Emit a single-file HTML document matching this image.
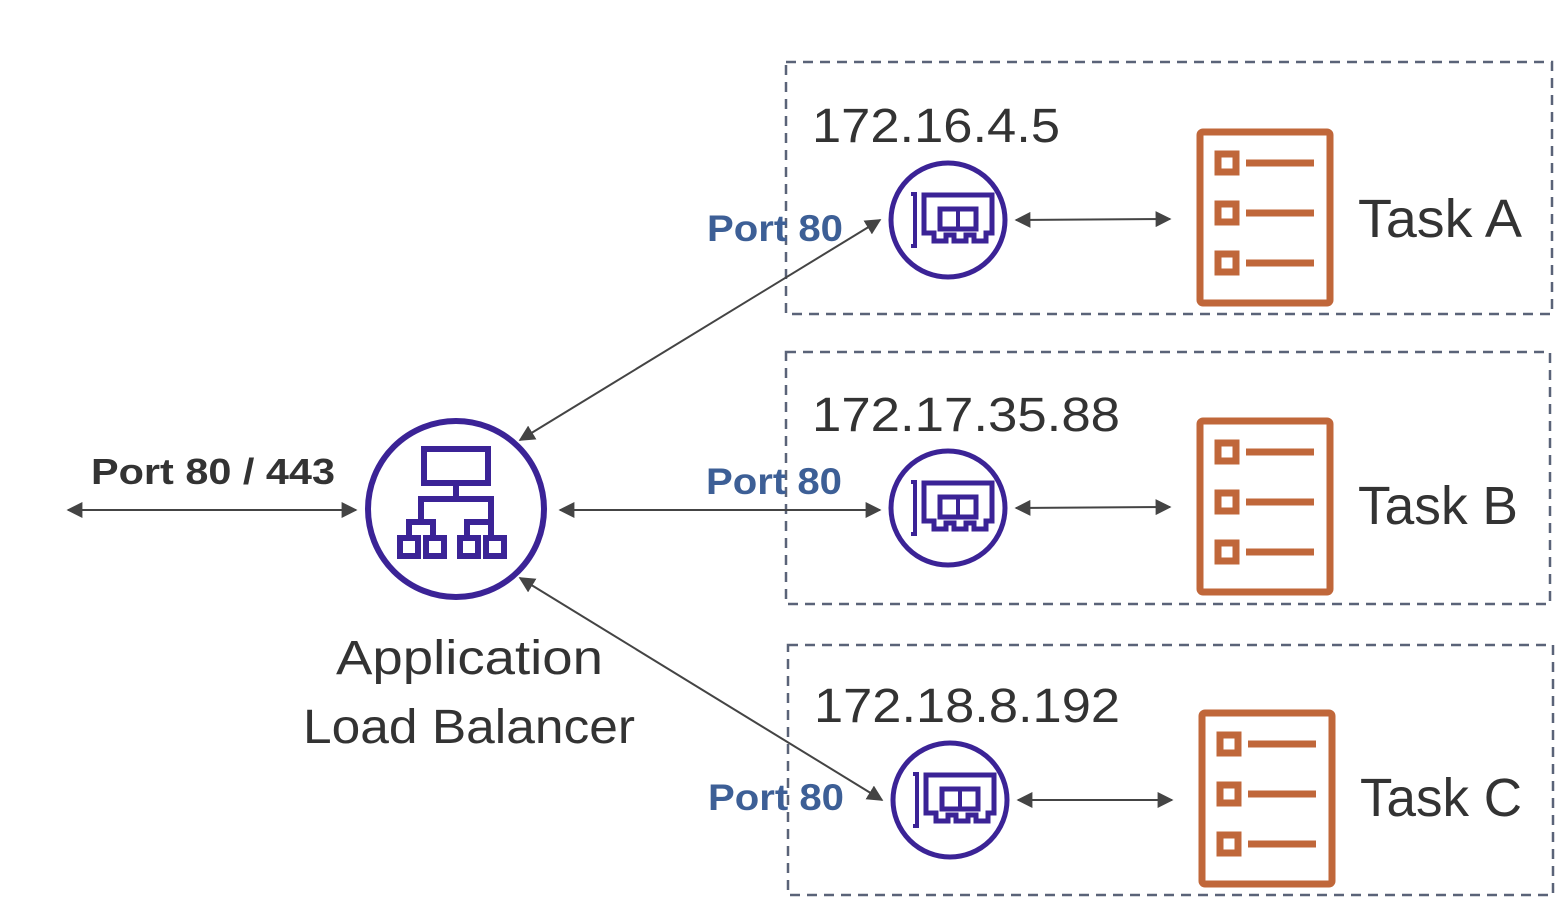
<!DOCTYPE html>
<html><head><meta charset="utf-8"><style>
html,body{margin:0;padding:0;background:#fff;}
svg{display:block;}
text{font-family:"Liberation Sans",sans-serif;}
</style></head><body>
<svg width="1566" height="918" viewBox="0 0 1566 918" xmlns="http://www.w3.org/2000/svg">
<defs>
<marker id="ah" viewBox="0 0 10 10" refX="9" refY="5" markerWidth="16" markerHeight="16" markerUnits="userSpaceOnUse" orient="auto-start-reverse">
<path d="M0,0 L10,5 L0,10 z" fill="#444"/>
</marker>
<g id="eni">
<circle cx="0" cy="0" r="57" fill="#fff" stroke="#3b2396" stroke-width="5"/>
<path d="M-37,-26 h4 v52 h-4" fill="none" stroke="#3b2396" stroke-width="4"/>
<path d="M-24,-25 h68 v38 h-6 v8 h-12 v-6 h-8 v6 h-12 v-6 h-8 v6 h-12 v-8 h-10 z" fill="none" stroke="#3b2396" stroke-width="5"/>
<rect x="-8" y="-11" width="36" height="20" fill="none" stroke="#3b2396" stroke-width="5"/>
<line x1="10" y1="-11" x2="10" y2="9" stroke="#3b2396" stroke-width="4"/>
</g>
<g id="task" fill="none" stroke="#c0673a" stroke-width="7">
<rect x="0" y="0" width="130" height="171" rx="3"/>
<rect x="18" y="22" width="18" height="18"/>
<rect x="18" y="72" width="18" height="18"/>
<rect x="18" y="122" width="18" height="18"/>
<line x1="46" y1="31" x2="114" y2="31"/>
<line x1="46" y1="81" x2="114" y2="81"/>
<line x1="46" y1="131" x2="114" y2="131"/>
</g>
</defs>
<g fill="none" stroke="#5a6378" stroke-width="2.5" stroke-dasharray="10,7">
<rect x="786" y="62" width="766" height="252"/>
<rect x="786" y="352" width="764" height="252"/>
<rect x="788" y="645" width="765" height="250"/>
</g>
<g stroke="#444" stroke-width="2" marker-start="url(#ah)" marker-end="url(#ah)">
<line x1="68" y1="510" x2="356" y2="510"/>
<line x1="520" y1="440" x2="880" y2="220"/>
<line x1="560" y1="510" x2="880" y2="510"/>
<line x1="520" y1="578" x2="882" y2="800"/>
<line x1="1016" y1="220" x2="1170" y2="219"/>
<line x1="1016" y1="508" x2="1170" y2="507"/>
<line x1="1018" y1="800" x2="1172" y2="800"/>
</g>
<circle cx="456" cy="509" r="88" fill="#fff" stroke="#3b2396" stroke-width="6"/>
<g fill="none" stroke="#3b2396" stroke-width="6">
<rect x="424" y="449" width="64" height="34"/>
<path d="M456,483 v14 M421,517 v-18 h70 v18 M409,530 v-8 h24 v8 M467,530 v-8 h24 v8 M421,517 v5 M491,517 v5"/>
<rect x="400" y="538" width="18" height="18"/>
<rect x="426" y="538" width="18" height="18"/>
<rect x="460" y="538" width="18" height="18"/>
<rect x="486" y="538" width="18" height="18"/>
<path d="M409,530 v8 M433,530 v5 M467,530 v8 M491,530 v8"/>
</g>
<use href="#eni" x="948" y="220"/>
<use href="#eni" x="948" y="508"/>
<use href="#eni" x="950" y="800"/>
<use href="#task" x="1200" y="132"/>
<use href="#task" x="1200" y="421"/>
<use href="#task" x="1202" y="713"/>
<g fill="#333" font-size="48" lengthAdjust="spacingAndGlyphs">
<text x="812" y="142" textLength="248" lengthAdjust="spacingAndGlyphs">172.16.4.5</text>
<text x="812" y="431" textLength="308" lengthAdjust="spacingAndGlyphs">172.17.35.88</text>
<text x="814" y="722" textLength="306" lengthAdjust="spacingAndGlyphs">172.18.8.192</text>
</g>
<g fill="#333" font-size="54">
<text x="1358" y="237" textLength="164" lengthAdjust="spacingAndGlyphs">Task A</text>
<text x="1358" y="524" textLength="160" lengthAdjust="spacingAndGlyphs">Task B</text>
<text x="1360" y="816" textLength="162" lengthAdjust="spacingAndGlyphs">Task C</text>
</g>
<g fill="#3d5f96" font-size="37" font-weight="bold">
<text x="707" y="241" textLength="136" lengthAdjust="spacingAndGlyphs">Port 80</text>
<text x="706" y="494" textLength="136" lengthAdjust="spacingAndGlyphs">Port 80</text>
<text x="708" y="810" textLength="136" lengthAdjust="spacingAndGlyphs">Port 80</text>
</g>
<text x="91" y="484" fill="#333" font-size="36" font-weight="bold" textLength="244" lengthAdjust="spacingAndGlyphs">Port 80 / 443</text>
<g fill="#333" font-size="48">
<text x="336" y="674" textLength="267" lengthAdjust="spacingAndGlyphs">Application</text>
<text x="303" y="743" textLength="332" lengthAdjust="spacingAndGlyphs">Load Balancer</text>
</g>
</svg>
</body></html>
